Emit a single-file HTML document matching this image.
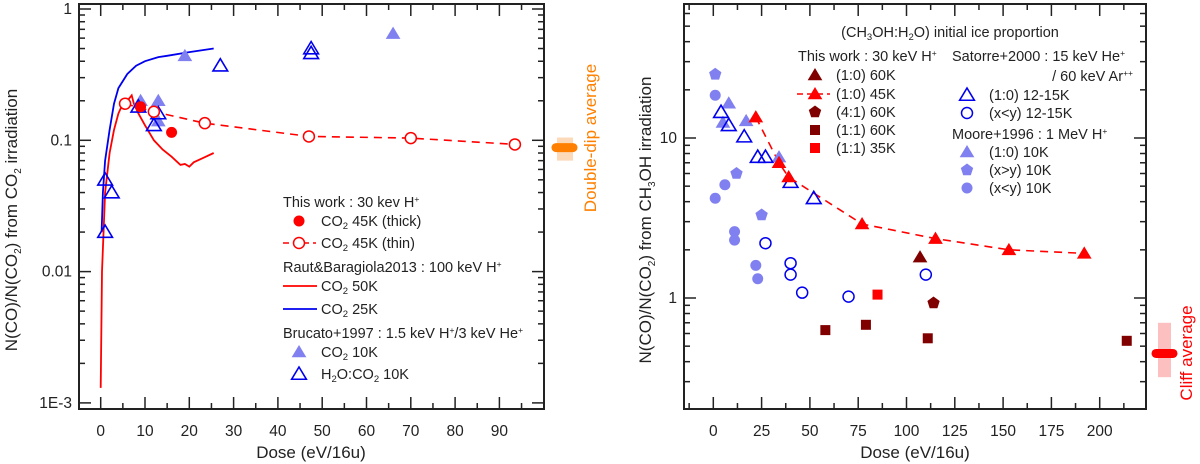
<!DOCTYPE html>
<html><head><meta charset="utf-8">
<style>
html,body{margin:0;padding:0;background:#fff;}
svg{display:block;font-family:"Liberation Sans",Arial,sans-serif;}
</style></head>
<body>
<svg id="chart" width="1200" height="464" viewBox="0 0 1200 464" xmlns="http://www.w3.org/2000/svg">
<g id="L"></g>
<g id="R"></g>
</svg>
<script>
// ---------- LEFT PANEL DATA ----------
const thickDose=[9,16];
const thickVal=[0.18,0.115];
const thinDose=[5.5,12,23.5,47,70,93.5];
const thinVal=[0.19,0.165,0.135,0.107,0.104,0.093];
const bruCO2Dose=[9,13,13,19,66];
const bruCO2Val=[0.2,0.2,0.14,0.44,0.65];
const bruMixDose=[1,2.5,1,8.5,12,13,27,47.5,47.5];
const bruMixVal=[0.05,0.04,0.02,0.18,0.13,0.16,0.37,0.5,0.46];
const raut50Dose=[0,0.3,1,2,3,4,5,6,7,7.5,8.5,10,12,14,16,18,19,20,21,23,25.5];
const raut50Val=[0.0013,0.01,0.04,0.08,0.12,0.16,0.19,0.2,0.22,0.19,0.16,0.13,0.1,0.085,0.075,0.065,0.066,0.063,0.068,0.073,0.08];
const raut25Dose=[0.2,0.5,1,2,3,4,6,8,10,13,15,20,25.5];
const raut25Val=[0.02,0.04,0.07,0.12,0.19,0.25,0.32,0.37,0.4,0.43,0.44,0.47,0.5];
const leftXTicks=[0,10,20,30,40,50,60,70,80,90];
const leftYTicks=[1,0.1,0.01,0.001];
const leftYLabels=["1","0.1","0.01","1E-3"];
const doubleDipAvg=0.088, doubleDipLo=0.07, doubleDipHi=0.105;

// ---------- RIGHT PANEL DATA ----------
const mooreTriDose=[8,5,17,34];
const mooreTriVal=[16.5,12.5,12.8,7.6];
const moorePentDose=[1,12,25];
const moorePentVal=[25,6,3.3];
const mooreCircDose=[1,1,6,11,11,22,23];
const mooreCircVal=[18.5,4.2,5.1,2.6,2.3,1.6,1.32];
const satTriDose=[4,8,16,23,27,40,52];
const satTriVal=[14.5,12,10.2,7.6,7.6,5.3,4.2];
const satCircDose=[27,40,40,46,70,110];
const satCircVal=[2.2,1.65,1.4,1.08,1.02,1.4];
const tw60Dose=[107];
const tw60Val=[1.8];
const tw45Dose=[22,34,39,77,115,153,192];
const tw45Val=[13.5,7,5.7,2.9,2.35,2.0,1.9];
const tw41Dose=[114];
const tw41Val=[0.93];
const tw11Dose=[58,79,111,214];
const tw11Val=[0.63,0.68,0.56,0.54];
const tw35Dose=[85];
const tw35Val=[1.05];
const rightXTicks=[0,25,50,75,100,125,150,175,200];
const rightYTicks=[10,1];
const rightYLabels=["10","1"];
const cliffAvg=0.45, cliffLo=0.32, cliffHi=0.7;

const NS="http://www.w3.org/2000/svg";
function mk(parent,tag,attrs,text){const e=document.createElementNS(NS,tag);for(const k in attrs)e.setAttribute(k,attrs[k]);if(text!==undefined)e.textContent=text;parent.appendChild(e);return e;}

const Lx=v=>100.7+v*4.43;
const Ly=v=>9-Math.log10(v)*131.3;
const Rx=v=>713.3+v*1.932;
const Ry=v=>298-Math.log10(v)*160;

function tri(g,x,y,s,fill,stroke){return mk(g,'polygon',{points:`${x},${y-s} ${x-s*1.05},${y+s*0.75} ${x+s*1.05},${y+s*0.75}`,fill:fill,stroke:stroke,'stroke-width':fill==='none'?1.6:0});}
function pent(g,x,y,s,fill){let p=[];for(let i=0;i<5;i++){const a=-Math.PI/2+i*2*Math.PI/5;p.push((x+s*Math.cos(a)).toFixed(1)+','+(y+s*Math.sin(a)).toFixed(1));}return mk(g,'polygon',{points:p.join(' '),fill:fill});}
function circ(g,x,y,r,fill,stroke){return mk(g,'circle',{cx:x,cy:y,r:r,fill:fill,stroke:stroke||'none','stroke-width':1.5});}
function sq(g,x,y,s,fill){return mk(g,'rect',{x:x-s,y:y-s,width:2*s,height:2*s,fill:fill});}
function pathFrom(xs,ys,fx,fy){return xs.map((d,i)=>(i?'L':'M')+fx(d).toFixed(1)+','+fy(ys[i]).toFixed(1)).join(' ');}

function frame(g,x0,x1,y0,y1,majorX,minorX,fx,yDecades,fy,yLabels,yTicks){
  let fr=mk(g,'rect',{x:x0,y:y0,width:x1-x0,height:y1-y0,fill:'none',stroke:'#222','stroke-width':2});
  
  minorX.forEach(v=>{const x=fx(v);if(x<x0||x>x1)return;mk(g,'line',{x1:x,x2:x,y1:y1,y2:y1-6,stroke:'#222','stroke-width':1.5});mk(g,'line',{x1:x,x2:x,y1:y0,y2:y0+6,stroke:'#222','stroke-width':1.5});});
  majorX.forEach(v=>{const x=fx(v);mk(g,'line',{x1:x,x2:x,y1:y1,y2:y1-12,stroke:'#222','stroke-width':1.5});mk(g,'line',{x1:x,x2:x,y1:y0,y2:y0+12,stroke:'#222','stroke-width':1.5});
    const t=mk(g,'text',{x:x,y:y1+27,'font-size':15.5,'text-anchor':'middle',fill:'#222'},String(v));});
  yDecades.forEach(d=>{for(let m=1;m<10;m++){const v=Math.pow(10,d)*m;const y=fy(v);if(y<y0-0.5||y>y1+0.5)continue;const L=m===1?12:6;
    mk(g,'line',{x1:x0,x2:x0+L,y1:y,y2:y,stroke:'#222','stroke-width':1.5});mk(g,'line',{x1:x1,x2:x1-L,y1:y,y2:y,stroke:'#222','stroke-width':1.5});}});
  yTicks.forEach((v,i)=>{const t=mk(g,'text',{x:x0-7,y:fy(v)+5,'font-size':15.5,'text-anchor':'end',fill:'#222'},yLabels[i]);});
}

// ===== LEFT =====
const L=document.getElementById('L');
frame(L,79,544,4,409,leftXTicks,[5,15,25,35,45,55,65,75,85,95],Lx,[-3,-2,-1,0],Ly,leftYLabels,leftYTicks);
let t=mk(L,'text',{x:311,y:458,'font-size':17,'text-anchor':'middle',fill:'#222'},'Dose (eV/16u)');

t=mk(L,'text',{transform:'translate(17,220) rotate(-90)','font-size':17,'text-anchor':'middle',fill:'#222'});

t.innerHTML='N(CO)/N(CO<tspan dy="4" font-size="10">2</tspan><tspan dy="-4">) from CO</tspan><tspan dy="4" font-size="10">2</tspan><tspan dy="-4"> irradiation</tspan>';

let cl=mk(L,'g',{'clip-path':'url(#clipL)'});
mk(mk(L,'clipPath',{id:'clipL'}),'rect',{x:79,y:4,width:465,height:405});
let p=mk(cl,'path',{d:pathFrom(raut50Dose,raut50Val,Lx,Ly),fill:'none',stroke:'#f00','stroke-width':1.8});

p=mk(cl,'path',{d:pathFrom(raut25Dose,raut25Val,Lx,Ly),fill:'none',stroke:'#00e','stroke-width':1.8});

p=mk(cl,'path',{d:pathFrom(thinDose,thinVal,Lx,Ly),fill:'none',stroke:'#f00','stroke-width':1.6,'stroke-dasharray':'8,6'});

bruCO2Dose.forEach((d,i)=>{const e=tri(cl,Lx(d),Ly(bruCO2Val[i]),7,'#8080f0');});
bruMixDose.forEach((d,i)=>{const e=tri(cl,Lx(d),Ly(bruMixVal[i]),7,'none','#00e');});
thinDose.forEach((d,i)=>{const e=circ(cl,Lx(d),Ly(thinVal[i]),5.5,'#fff','#f00');});
thickDose.forEach((d,i)=>{const e=circ(cl,Lx(d),Ly(thickVal[i]),5.5,'#f00');});

let bg=mk(L,'g',{});
mk(bg,'rect',{x:557,y:Ly(doubleDipHi),width:16,height:Ly(doubleDipLo)-Ly(doubleDipHi),fill:'#fcd9b8'});
mk(bg,'line',{x1:556,x2:573,y1:Ly(doubleDipAvg),y2:Ly(doubleDipAvg),stroke:'#ff8000','stroke-width':9,'stroke-linecap':'round'});
t=mk(L,'text',{transform:'translate(596,138) rotate(-90)','font-size':17,'text-anchor':'middle',fill:'#ff8000'},'Double-dip average');


let lg=mk(L,'g',{'font-size':14.5,fill:'#222'});
function sub(n){return `<tspan dy="3" font-size="9.5">${n}</tspan><tspan dy="-3">`;}
function txt(g,x,y,html,name){const e=mk(g,'text',{x:x,y:y});e.innerHTML=html;return e;}
txt(lg,283,207,'This work : 30 kev H<tspan dy="-5" font-size="8.5">+</tspan>','legend-header-this-work');
circ(lg,299,221,5.5,'#f00');txt(lg,321,226,'CO'+sub(2)+' 45K (thick)</tspan>','legend-entry-thick');
mk(lg,'line',{x1:283,x2:316,y1:243,y2:243,stroke:'#f00','stroke-width':1.6,'stroke-dasharray':'6,4'});circ(lg,299,243,5.5,'#fff','#f00');
txt(lg,321,248,'CO'+sub(2)+' 45K (thin)</tspan>','legend-entry-thin');
txt(lg,283,272,'Raut&amp;Baragiola2013 : 100 keV H<tspan dy="-5" font-size="8.5">+</tspan>','legend-header-raut');
mk(lg,'line',{x1:283,x2:317,y1:286,y2:286,stroke:'#f00','stroke-width':1.8});txt(lg,321,291,'CO'+sub(2)+' 50K</tspan>','legend-entry-50k');
mk(lg,'line',{x1:283,x2:317,y1:309,y2:309,stroke:'#00e','stroke-width':1.8});txt(lg,321,314,'CO'+sub(2)+' 25K</tspan>','legend-entry-25k');
txt(lg,283,338,'Brucato+1997 : 1.5 keV H<tspan dy="-5" font-size="8.5">+</tspan><tspan dy="5">/3 keV He</tspan><tspan dy="-5" font-size="8.5">+</tspan>','legend-header-brucato');
tri(lg,299,352,7,'#8080f0');txt(lg,321,357,'CO'+sub(2)+' 10K</tspan>','legend-entry-co2-10k');
tri(lg,299,374,7,'none','#00e');txt(lg,321,379,'H'+sub(2)+'O:CO</tspan>'+sub(2)+' 10K</tspan>','legend-entry-h2o-co2-10k');

// ===== RIGHT =====
const R=document.getElementById('R');
let minorR=[];for(let v=-12.5;v<=225;v+=25)minorR.push(v);
frame(R,684,1146,4,409,rightXTicks,minorR,Rx,[-1,0,1],Ry,rightYLabels,rightYTicks);
t=mk(R,'text',{x:915,y:458,'font-size':17,'text-anchor':'middle',fill:'#222'},'Dose (eV/16u)');

t=mk(R,'text',{transform:'translate(651,220) rotate(-90)','font-size':17,'text-anchor':'middle',fill:'#222'});

t.innerHTML='N(CO)/N(CO<tspan dy="4" font-size="10">2</tspan><tspan dy="-4">) from CH</tspan><tspan dy="4" font-size="10">3</tspan><tspan dy="-4">OH irradiation</tspan>';

let cr=mk(R,'g',{'clip-path':'url(#clipR)'});
mk(mk(R,'clipPath',{id:'clipR'}),'rect',{x:684,y:4,width:462,height:405});
p=mk(cr,'path',{d:pathFrom(tw45Dose,tw45Val,Rx,Ry),fill:'none',stroke:'#f00','stroke-width':1.6,'stroke-dasharray':'8,6'});

mooreCircDose.forEach((d,i)=>{const e=circ(cr,Rx(d),Ry(mooreCircVal[i]),5.5,'#8080f0');});
moorePentDose.forEach((d,i)=>{const e=pent(cr,Rx(d),Ry(moorePentVal[i]),6.5,'#8080f0');});
mooreTriDose.forEach((d,i)=>{const e=tri(cr,Rx(d),Ry(mooreTriVal[i]),7,'#8080f0');});
satTriDose.forEach((d,i)=>{const e=tri(cr,Rx(d),Ry(satTriVal[i]),7,'none','#00e');});
satCircDose.forEach((d,i)=>{const e=circ(cr,Rx(d),Ry(satCircVal[i]),5.5,'none','#00e');});
tw45Dose.forEach((d,i)=>{const e=tri(cr,Rx(d),Ry(tw45Val[i]),7,'#f00');});
tw60Dose.forEach((d,i)=>{const e=tri(cr,Rx(d),Ry(tw60Val[i]),7,'#800000');});
tw41Dose.forEach((d,i)=>{const e=pent(cr,Rx(d),Ry(tw41Val[i]),6.5,'#800000');});
tw11Dose.forEach((d,i)=>{const e=sq(cr,Rx(d),Ry(tw11Val[i]),5,'#800000');});
tw35Dose.forEach((d,i)=>{const e=sq(cr,Rx(d),Ry(tw35Val[i]),5,'#f00');});

bg=mk(R,'g',{});
mk(bg,'rect',{x:1158,y:Ry(cliffHi),width:13,height:Ry(cliffLo)-Ry(cliffHi),fill:'#fcc0c0'});
mk(bg,'line',{x1:1156,x2:1173,y1:Ry(cliffAvg),y2:Ry(cliffAvg),stroke:'#f00','stroke-width':9,'stroke-linecap':'round'});
t=mk(R,'text',{transform:'translate(1192,353) rotate(-90)','font-size':17,'text-anchor':'middle',fill:'#f00'},'Cliff average');


let rg=mk(R,'g',{'font-size':14.5,fill:'#222'});
txt(rg,950,37,'(CH'+sub(3)+'OH:H</tspan>'+sub(2)+'O) initial ice proportion</tspan>','legend-title').setAttribute('text-anchor','middle');
txt(rg,798,61,'This work : 30 keV H<tspan dy="-5" font-size="8.5">+</tspan>','legend-header-this-work');
tri(rg,815,75,7,'#800000');txt(rg,836,80,'(1:0) 60K','legend-entry-10-60k');
mk(rg,'line',{x1:797,x2:830,y1:94,y2:94,stroke:'#f00','stroke-width':1.6,'stroke-dasharray':'6,4'});tri(rg,815,94,7,'#f00');txt(rg,836,99,'(1:0) 45K','legend-entry-10-45k');
pent(rg,815,112,6.5,'#800000');txt(rg,836,117,'(4:1) 60K','legend-entry-41-60k');
sq(rg,815,130,5,'#800000');txt(rg,836,135,'(1:1) 60K','legend-entry-11-60k');
sq(rg,815,148,5,'#f00');txt(rg,836,153,'(1:1) 35K','legend-entry-11-35k');
txt(rg,952,61,'Satorre+2000 : 15 keV He<tspan dy="-5" font-size="8.5">+</tspan>','legend-header-satorre');
txt(rg,1133,81,'/ 60 keV Ar<tspan dy="-5" font-size="8.5">++</tspan>','legend-header-satorre-2').setAttribute('text-anchor','end');
tri(rg,967,95,7,'none','#00e');txt(rg,989,100,'(1:0) 12-15K','legend-entry-sat-10');
circ(rg,967,113,5.5,'none','#00e');txt(rg,989,118,'(x&lt;y) 12-15K','legend-entry-sat-xlty');
txt(rg,952,139,'Moore+1996 : 1 MeV H<tspan dy="-5" font-size="8.5">+</tspan>','legend-header-moore');
tri(rg,967,152,7,'#8080f0');txt(rg,989,157,'(1:0) 10K','legend-entry-moore-10');
pent(rg,967,170,6.5,'#8080f0');txt(rg,989,175,'(x&gt;y) 10K','legend-entry-moore-xgty');
circ(rg,967,188,5.5,'#8080f0');txt(rg,989,193,'(x&lt;y) 10K','legend-entry-moore-xlty');
</script>
</body></html>
